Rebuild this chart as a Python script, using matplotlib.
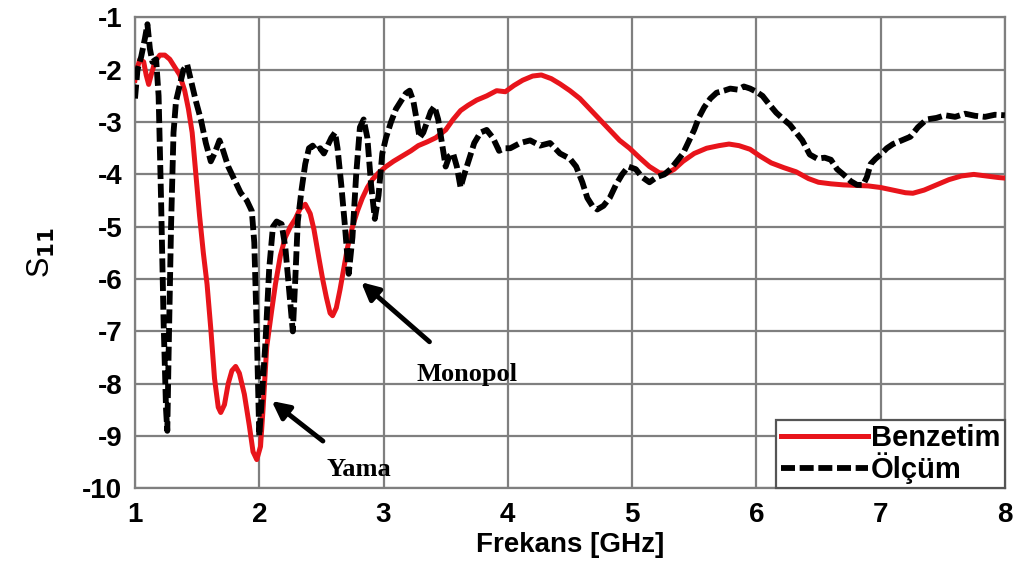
import matplotlib.pyplot as plt
import matplotlib

matplotlib.rc('font', family='Liberation Sans', weight='bold', size=16)
matplotlib.rcParams['axes.unicode_minus'] = False

# Benzetim (simulation)
f_sim = [1.00, 1.02, 1.04, 1.07, 1.09, 1.11, 1.13, 1.16, 1.20, 1.24, 1.28, 1.32, 1.36, 1.40,
         1.43, 1.46, 1.49, 1.52, 1.55, 1.58, 1.61, 1.64, 1.67, 1.69, 1.72, 1.75, 1.78, 1.81,
         1.84, 1.88, 1.92, 1.95, 1.98, 2.01, 2.03, 2.06, 2.10, 2.13, 2.17, 2.21, 2.25, 2.29,
         2.33, 2.37, 2.41, 2.44, 2.48, 2.51, 2.54, 2.57, 2.59, 2.62, 2.65, 2.68, 2.71, 2.75,
         2.79, 2.83, 2.87, 2.91, 2.96, 3.02, 3.08, 3.15, 3.22, 3.28, 3.35, 3.42, 3.50, 3.56,
         3.62, 3.68, 3.75, 3.83, 3.91, 3.98, 4.05, 4.12, 4.20, 4.27, 4.35, 4.42, 4.50, 4.58,
         4.66, 4.74, 4.82, 4.90, 4.98, 5.06, 5.14, 5.22, 5.28, 5.34, 5.41, 5.50, 5.60, 5.70,
         5.78, 5.86, 5.95, 6.03, 6.12, 6.22, 6.32, 6.42, 6.50, 6.60, 6.70, 6.80, 6.90, 7.00,
         7.10, 7.20, 7.26, 7.35, 7.45, 7.55, 7.65, 7.75, 7.85, 7.95, 8.00]
s_sim = [-2.2, -1.95, -1.8, -1.85, -2.1, -2.28, -2.1, -1.85, -1.72, -1.72, -1.8, -1.95, -2.1, -2.4,
         -2.75, -3.2, -4.0, -4.8, -5.5, -6.1, -6.95, -7.9, -8.45, -8.55, -8.4, -8.0, -7.75, -7.67,
         -7.8, -8.2, -8.8, -9.3, -9.45, -9.2, -8.5, -7.3, -6.6, -6.1, -5.55, -5.2, -5.0, -4.85,
         -4.65, -4.57, -4.75, -5.05, -5.6, -6.0, -6.35, -6.65, -6.7, -6.55, -6.2, -5.8, -5.4, -5.0,
         -4.7, -4.45, -4.25, -4.1, -3.97, -3.85, -3.75, -3.65, -3.55, -3.45, -3.38, -3.3, -3.15, -2.95,
         -2.78, -2.68, -2.58, -2.5, -2.4, -2.42, -2.3, -2.2, -2.12, -2.1, -2.17, -2.27, -2.4, -2.55,
         -2.75, -2.95, -3.15, -3.35, -3.5, -3.68, -3.85, -3.97, -3.98, -3.9, -3.75, -3.6, -3.5, -3.45,
         -3.42, -3.45, -3.52, -3.65, -3.78, -3.87, -3.95, -4.08, -4.15, -4.18, -4.2, -4.21, -4.22, -4.25,
         -4.3, -4.35, -4.36, -4.3, -4.2, -4.1, -4.03, -4.0, -4.03, -4.06, -4.07]

# Olcum (measurement)
f_meas = [1.00, 1.02, 1.05, 1.08, 1.10, 1.12, 1.14, 1.17, 1.19, 1.21, 1.23, 1.25, 1.26, 1.27,
          1.29, 1.31, 1.33, 1.36, 1.39, 1.42, 1.45, 1.49, 1.53, 1.57, 1.61, 1.64, 1.68, 1.71,
          1.75, 1.80, 1.85, 1.90, 1.94, 1.96, 1.98, 2.00, 2.02, 2.05, 2.08, 2.11, 2.14, 2.18,
          2.21, 2.24, 2.27, 2.29, 2.31, 2.34, 2.37, 2.40, 2.43, 2.46, 2.49, 2.52, 2.55, 2.58,
          2.61, 2.63, 2.66, 2.69, 2.72, 2.75, 2.78, 2.81, 2.84, 2.87, 2.90, 2.93, 2.96, 2.99,
          3.02, 3.06, 3.10, 3.14, 3.18, 3.21, 3.24, 3.27, 3.29, 3.32, 3.35, 3.38, 3.41, 3.44,
          3.47, 3.50, 3.53, 3.56, 3.59, 3.62, 3.65, 3.69, 3.73, 3.78, 3.83, 3.88, 3.93, 3.97,
          4.02, 4.10, 4.18, 4.26, 4.34, 4.42, 4.50, 4.55, 4.60, 4.64, 4.68, 4.72, 4.77, 4.82,
          4.87, 4.92, 4.97, 5.03, 5.08, 5.14, 5.20, 5.26, 5.31, 5.36, 5.41, 5.46, 5.50, 5.54,
          5.58, 5.63, 5.68, 5.74, 5.79, 5.85, 5.90, 5.95, 6.00, 6.05, 6.10, 6.16, 6.22, 6.27,
          6.32, 6.37, 6.43, 6.49, 6.55, 6.60, 6.65, 6.70, 6.76, 6.81, 6.86, 6.89, 6.92, 6.96,
          7.00, 7.05, 7.10, 7.17, 7.24, 7.30, 7.37, 7.45, 7.52, 7.60, 7.68, 7.76, 7.84, 7.92, 8.00]
s_meas = [-2.55, -2.0, -1.75, -1.4, -1.13, -1.6, -1.85, -1.8, -2.5, -4.5, -6.8, -8.5, -8.9, -7.5,
          -5.0, -3.2, -2.6, -2.3, -2.0, -1.9, -2.2, -2.6, -2.95, -3.4, -3.75, -3.6, -3.35, -3.55,
          -3.85, -4.1, -4.35, -4.5, -4.7, -5.3, -7.0, -9.0, -8.3, -7.2, -5.8, -5.0, -4.9, -4.95,
          -5.4, -6.2, -7.0, -6.0, -4.9, -4.3, -3.8, -3.5, -3.45, -3.55, -3.5, -3.6, -3.45, -3.3,
          -3.2, -3.5, -4.2, -5.0, -5.9, -5.2, -4.0, -3.1, -2.95, -3.3, -4.2, -4.85, -4.4, -3.6,
          -3.3, -3.0, -2.75, -2.6, -2.45, -2.4, -2.6, -3.0, -3.3, -3.2, -3.0, -2.8, -2.7, -2.95,
          -3.4, -3.85, -3.65, -3.6, -3.85, -4.25, -4.0, -3.7, -3.4, -3.2, -3.15, -3.3, -3.55, -3.5,
          -3.5, -3.4, -3.35, -3.45, -3.4, -3.6, -3.7, -3.85, -4.15, -4.45, -4.6, -4.67, -4.6, -4.45,
          -4.2, -4.0, -3.85, -3.9, -4.05, -4.15, -4.05, -4.0, -3.9, -3.75, -3.6, -3.35, -3.15, -2.9,
          -2.72, -2.55, -2.44, -2.4, -2.36, -2.38, -2.32, -2.36, -2.42, -2.5, -2.65, -2.82, -2.95, -3.05,
          -3.2, -3.35, -3.62, -3.7, -3.68, -3.72, -3.9, -4.0, -4.13, -4.2, -4.2, -4.05, -3.8, -3.7,
          -3.62, -3.5, -3.42, -3.35, -3.28, -3.1, -2.95, -2.92, -2.87, -2.9, -2.84, -2.88, -2.9, -2.86, -2.87]

fig = plt.figure(figsize=(10.15, 5.62), dpi=100)
ax = fig.add_axes([0.133, 0.131, 0.857, 0.838])

ax.grid(True, color='#7f7f7f', linewidth=1.6)
ax.set_axisbelow(True)

l_sim, = ax.plot(f_sim, s_sim, color='#e8141b', linewidth=3.6, label='Benzetim', zorder=3)
l_meas, = ax.plot(f_meas, s_meas, color='black', linewidth=4.2, dashes=(2.4, 0.8),
                  label='Ölçüm', zorder=4)

ax.set_xlim(1, 8)
ax.set_ylim(-10, -1)
ax.set_xticks(range(1, 9))
ax.set_yticks(range(-10, 0))
ax.tick_params(axis='x', length=0, pad=10, labelsize=20)
ax.tick_params(axis='y', length=0, pad=9, labelsize=20)
for s in ax.spines.values():
    s.set_color('#7f7f7f')
    s.set_linewidth(1.6)

ax.set_xlabel('Frekans [GHz]', fontsize=20, fontweight='bold', labelpad=3)
ax.set_ylabel('S$_{11}$', fontsize=22, fontweight='normal', labelpad=18)

leg = ax.legend(handles=[l_sim, l_meas], loc='lower right', fontsize=21, handlelength=3.0,
                handletextpad=0.1, borderaxespad=0, fancybox=False, framealpha=1,
                borderpad=0.15, labelspacing=0.0)
leg.get_frame().set_edgecolor('#555555')
leg.get_frame().set_linewidth(1.6)

ax.annotate('Yama', xy=(2.1, -8.33), xytext=(2.8, -9.63), ha='center', va='center',
            family='Liberation Serif', weight='bold', size=19,
            arrowprops=dict(arrowstyle='-|>', color='black', lw=3.5, mutation_scale=26,
                            shrinkA=16, shrinkB=0))
ax.annotate('Monopol', xy=(2.82, -6.06), xytext=(3.67, -7.82), ha='center', va='center',
            family='Liberation Serif', weight='bold', size=19,
            arrowprops=dict(arrowstyle='-|>', color='black', lw=3.5, mutation_scale=26,
                            shrinkA=20, shrinkB=0))

fig.savefig('out.png', dpi=100)
